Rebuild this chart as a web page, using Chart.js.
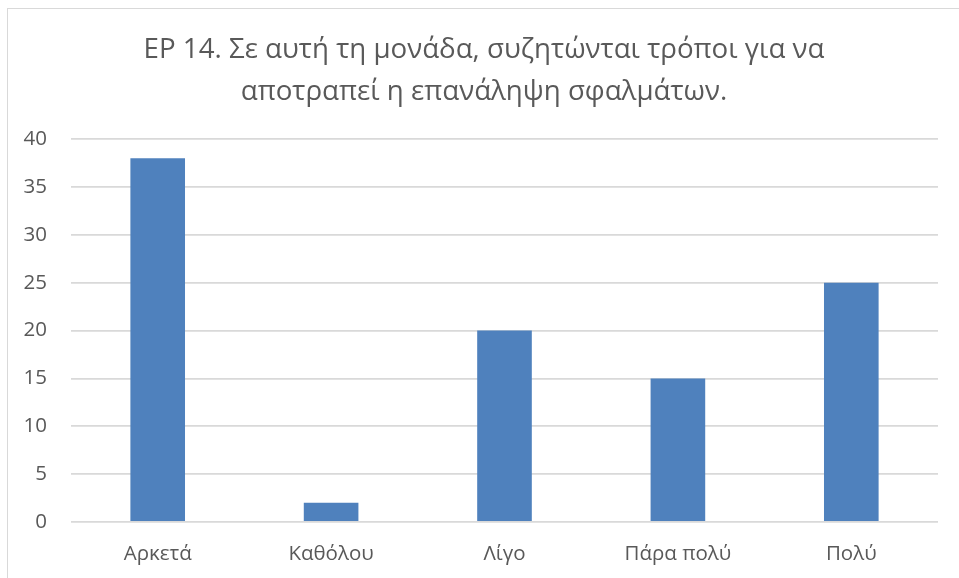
<!DOCTYPE html>
<html lang="el">
<head>
<meta charset="utf-8">
<title>ΕΡ 14</title>
<script src="https://cdn.jsdelivr.net/npm/chart.js@4/dist/chart.umd.min.js"></script>
<style>
  html, body { margin: 0; padding: 0; background: #ffffff; }
  body { width: 959px; height: 578px; position: relative; overflow: hidden; }
  #frame {
    position: absolute; left: 7px; top: 8px; width: 980px; height: 600px;
    border-left: 1px solid #d9d9d9; border-top: 1px solid #d9d9d9;
    box-sizing: border-box;
  }
  #wrap { position: absolute; left: 0; top: 0; width: 968px; height: 578px; }
</style>
</head>
<body>
<div id="frame"></div>
<div id="wrap"><canvas id="chart"></canvas></div>
<script>
// Survey answers and their counts
const titleLines = [
  'ΕΡ 14. Σε αυτή τη μονάδα, συζητώνται τρόποι για να',
  'αποτραπεί η επανάληψη σφαλμάτων.'
];
const categories = ['Αρκετά', 'Καθόλου', 'Λίγο', 'Πάρα πολύ', 'Πολύ'];
const counts = [38, 2, 20, 15, 25];
const yTicks = [0, 5, 10, 15, 20, 25, 30, 35, 40];

const textColor = '#595959';
const gridColor = '#d9d9d9';
const barColor = '#4f81bd';
const fontFamily = "'Open Sans', 'Noto Sans', sans-serif";

new Chart(document.getElementById('chart'), {
  type: 'bar',
  data: {
    labels: categories,
    datasets: [{
      data: counts,
      backgroundColor: barColor,
      borderWidth: 0,
      barPercentage: 0.315,
      categoryPercentage: 1.0
    }]
  },
  options: {
    responsive: true,
    maintainAspectRatio: false,
    animation: false,
    layout: { padding: 0 },
    plugins: {
      legend: { display: false },
      tooltip: { enabled: false },
      title: {
        display: true,
        text: titleLines,
        color: textColor,
        font: { family: fontFamily, size: 27.7, weight: 'normal', lineHeight: 1.52 },
        padding: { top: 29, bottom: 26 }
      }
    },
    scales: {
      x: {
        afterFit: (scale) => { scale.height = 56; },
        grid: { display: false, drawTicks: false, tickLength: 0 },
        border: { display: false },
        ticks: {
          color: textColor,
          padding: 20,
          font: { family: fontFamily, size: 20.5 },
          maxRotation: 0
        }
      },
      y: {
        min: 0,
        max: 40,
        afterBuildTicks: (scale) => { scale.ticks = yTicks.map(v => ({ value: v })); },
        afterFit: (scale) => { scale.width = 71; },
        grid: { color: gridColor, lineWidth: 1.8, drawTicks: false },
        border: { display: false },
        ticks: {
          color: textColor,
          padding: 24,
          font: { family: fontFamily, size: 20.5 }
        }
      },
      // empty margin to the right of the plot area
      yRight: {
        position: 'right',
        afterFit: (scale) => { scale.width = 30; },
        grid: { display: false, drawTicks: false },
        border: { display: false },
        ticks: { display: false }
      }
    }
  }
});
</script>
</body>
</html>
